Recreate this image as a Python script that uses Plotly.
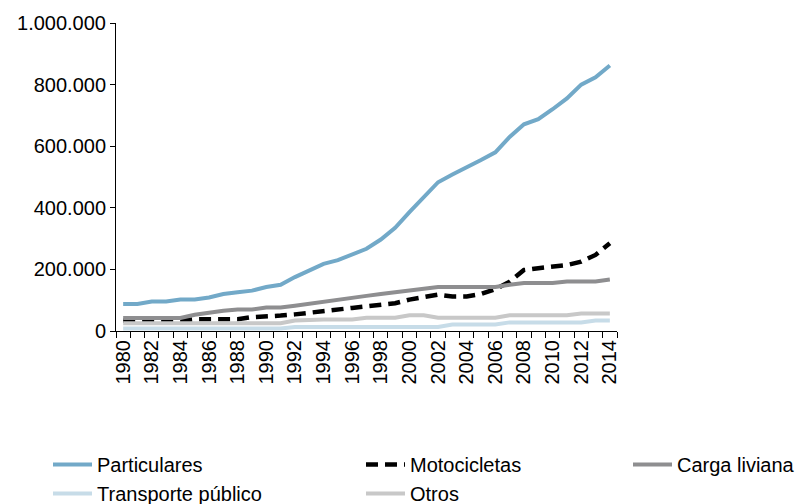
import plotly.graph_objects as go

years = list(range(1980, 2015))

particulares = [88000, 88000, 96000, 96000, 102000, 102000, 109000, 120000, 126000, 131000,
                143000, 150000, 175000, 198000, 218000, 230000, 250000, 267000, 297000, 335000,
                386000, 435000, 483000, 508000, 530000, 555000, 580000, 630000, 671000, 688000,
                720000, 755000, 800000, 824000, 862000]
motocicletas = [33000, 33000, 33000, 33000, 33000, 38000, 38000, 38000, 38000, 45000,
                46000, 50000, 54000, 60000, 65000, 69000, 75000, 80000, 84000, 90000,
                102000, 109000, 118000, 112000, 112000, 120000, 136000, 160000, 198000, 204000,
                209000, 214000, 225000, 247000, 285000]
carga_liviana = [42000, 42000, 42000, 42000, 42000, 53000, 61000, 66000, 70000, 70000,
                 76000, 76000, 82000, 89000, 95000, 101000, 108000, 114000, 120000, 125000,
                 131000, 138000, 143000, 143000, 143000, 143000, 143000, 150000, 156000, 156000,
                 156000, 161000, 161000, 161000, 167000]
transporte_publico = [8000, 8000, 8000, 8000, 8000, 8000, 8000, 8000, 8000, 8000,
                      8000, 8000, 13000, 13000, 13000, 13000, 13000, 13000, 13000, 13000,
                      13000, 13000, 13000, 21000, 21000, 21000, 21000, 28000, 28000, 28000,
                      28000, 28000, 28000, 34000, 34000]
otros = [25000, 25000, 25000, 25000, 25000, 25000, 25000, 25000, 25000, 25000,
         25000, 25000, 34000, 37000, 37000, 37000, 37000, 43000, 43000, 43000,
         51000, 51000, 43000, 43000, 43000, 43000, 43000, 51000, 51000, 51000,
         51000, 51000, 57000, 57000, 57000]

y_ticks = [0, 200000, 400000, 600000, 800000, 1000000]
x_ticks = list(range(1980, 2015, 2))

FONT = "Liberation Sans, Arial, sans-serif"

fig = go.Figure()
fig.add_trace(go.Scatter(x=years, y=particulares, name="Particulares", mode="lines",
                         line=dict(color="#72A9C8", width=4), legend="legend"))
fig.add_trace(go.Scatter(x=years, y=motocicletas, name="Motocicletas", mode="lines",
                         line=dict(color="#000000", width=4.5, dash="12px,7px"), legend="legend2"))
fig.add_trace(go.Scatter(x=years, y=carga_liviana, name="Carga liviana", mode="lines",
                         line=dict(color="#8E8E90", width=4), legend="legend3"))
fig.add_trace(go.Scatter(x=years, y=transporte_publico, name="Transporte público", mode="lines",
                         line=dict(color="#C7DCE8", width=4), legend="legend"))
fig.add_trace(go.Scatter(x=years, y=otros, name="Otros", mode="lines",
                         line=dict(color="#C8C8C8", width=4), legend="legend2"))

# page has an 8px body margin: figure coordinates = page coordinates - 8
OFF = 8
W, H = 805 - OFF, 504 - OFF
left, top = 116 - OFF, 23 - OFF
pw, ph = 501, 308

leg_common = dict(orientation="v", xanchor="left", yanchor="top",
                  xref="container", yref="container",
                  font=dict(family=FONT, size=20, color="#000000"),
                  bgcolor="rgba(0,0,0,0)", itemwidth=39, tracegroupgap=0)
leg_top = 1 - (445 - OFF) / H

fig.update_layout(
    width=W, height=H,
    margin=dict(l=left, r=W - left - pw, t=top, b=H - top - ph, autoexpand=False),
    paper_bgcolor="white", plot_bgcolor="white",
    separators=",.",
    font=dict(family=FONT, size=20, color="#000000"),
    showlegend=True,
    legend=dict(x=40 / W, y=leg_top, **leg_common),
    legend2=dict(x=353 / W, y=leg_top, **leg_common),
    legend3=dict(x=620 / W, y=leg_top, **leg_common),
    xaxis=dict(
        range=[1979.5, 2014.5], automargin=False,
        tickmode="array", tickvals=x_ticks, ticktext=[str(v) for v in x_ticks],
        tickangle=-90, ticks="",
        showline=True, linecolor="#000000", linewidth=1,
        showgrid=False, zeroline=False,
        tickfont=dict(family=FONT, size=20, color="#000000"),
        minor=dict(tick0=1979.5, dtick=1, ticks="outside", ticklen=6,
                   tickcolor="#000000", tickwidth=1, showgrid=False),
    ),
    yaxis=dict(
        range=[0, 1000000], automargin=False,
        tickmode="array", tickvals=y_ticks, tickformat=",d",
        ticks="outside", ticklen=5, tickcolor="#000000", tickwidth=1,
        showline=True, linecolor="#000000", linewidth=1,
        showgrid=False, zeroline=False,
        tickfont=dict(family=FONT, size=20, color="#000000"),
    ),
)

fig.write_html("out.html")
